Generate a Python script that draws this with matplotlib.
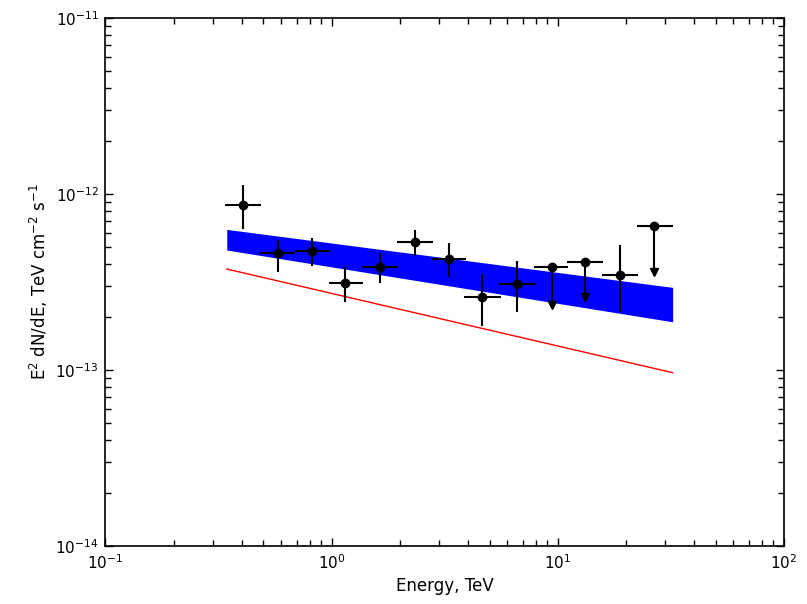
import numpy as np
import matplotlib
matplotlib.use("Agg")
import matplotlib.pyplot as plt

# flux points: energy (TeV) with bin edges, E^2 dN/dE with errors
energy = [0.404, 0.578, 0.822, 1.148, 1.639, 2.342, 3.32, 4.65, 6.64, 18.9]
e_lo = [0.338, 0.483, 0.690, 0.978, 1.368, 1.955, 2.776, 3.87, 5.53, 15.69]
e_hi = [0.488, 0.690, 0.985, 1.383, 1.975, 2.805, 3.94, 5.62, 8.03, 22.78]
flux = [8.66e-13, 4.60e-13, 4.74e-13, 3.13e-13, 3.86e-13, 5.36e-13, 4.26e-13,
        2.59e-13, 3.08e-13, 3.47e-13]
flux_hi = [1.125e-12, 5.48e-13, 5.65e-13, 3.86e-13, 4.64e-13, 6.24e-13,
           5.25e-13, 3.51e-13, 4.18e-13, 5.13e-13]
flux_lo = [6.33e-13, 3.62e-13, 3.90e-13, 2.43e-13, 3.13e-13, 4.45e-13,
           3.36e-13, 1.79e-13, 2.13e-13, 2.14e-13]

# upper limits
ul_energy = [9.43, 13.23, 26.8]
ul_lo = [7.87, 10.98, 22.4]
ul_hi = [11.16, 15.95, 32.3]
ul_flux = [3.86e-13, 4.09e-13, 6.58e-13]
ul_tip = [2.35e-13, 2.60e-13, 3.60e-13]

# fitted spectrum band and model line
band_e = [0.344, 32.3]
band_upper = [6.30e-13, 2.95e-13]
band_lower = [4.81e-13, 1.88e-13]
model_e = [0.344, 32.3]
model_flux = [3.75e-13, 9.66e-14]

plt.rcParams['xtick.direction'] = 'in'
plt.rcParams['ytick.direction'] = 'in'
plt.rcParams['xtick.top'] = True
plt.rcParams['ytick.right'] = True

fig = plt.figure(figsize=(8.07, 6.04), dpi=100)
ax = fig.add_axes([0.1307, 0.096, 0.8403, 0.874])

ax.fill_between(band_e, band_lower, band_upper, color='blue', lw=0)
ax.plot(model_e, model_flux, color='red', lw=1)

energy = np.array(energy)
flux = np.array(flux)
xerr = [energy - np.array(e_lo), np.array(e_hi) - energy]
yerr = [flux - np.array(flux_lo), np.array(flux_hi) - flux]
ax.errorbar(energy, flux, xerr=xerr, yerr=yerr, fmt='o', color='black',
            ms=6, elinewidth=1.5, capsize=0)

ul_energy = np.array(ul_energy)
ul_flux = np.array(ul_flux)
ax.errorbar(ul_energy, ul_flux,
            xerr=[ul_energy - np.array(ul_lo), np.array(ul_hi) - ul_energy],
            yerr=[ul_flux - np.array(ul_tip), np.zeros(3)],
            fmt='o', color='black', ms=6, elinewidth=1.5, capsize=0)
ax.plot(ul_energy, ul_tip, 'v', color='black', ms=5.5)

ax.set_xscale('log')
ax.set_yscale('log')
ax.set_xlim(0.1, 100)
ax.set_ylim(1e-14, 1e-11)
ax.tick_params(which='major', length=6, width=1, labelsize=11, pad=5)
ax.tick_params(which='minor', length=4.5, width=1)
for s in ax.spines.values():
    s.set_linewidth(1.2)

ax.set_xlabel('Energy, TeV', fontsize=12)
ax.set_ylabel(r'E$^2$ dN/dE, TeV cm$^{-2}$ s$^{-1}$', fontsize=12)

fig.savefig('out.png', dpi=100)
